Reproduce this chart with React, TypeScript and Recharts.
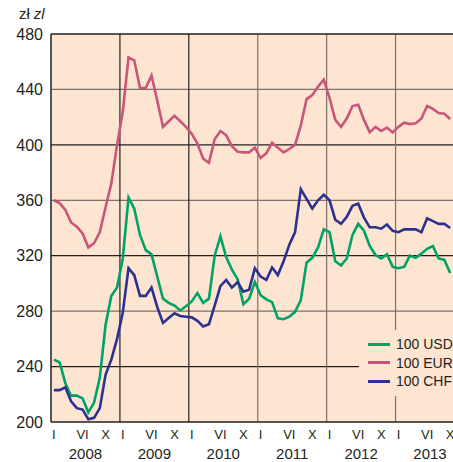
import { LineChart, Line, XAxis, YAxis, CartesianGrid, ReferenceLine, Legend } from 'recharts'

// monthly averages, Jan 2008 .. Oct 2013 (zł per 100 units)
const YEARS = [2008, 2009, 2010, 2011, 2012, 2013]
const MONTH_LABELS = ['I', 'VI', 'X']
const MONTH_LABEL_INDEX = [0, 5, 9]
const Y_TICKS = [200, 240, 280, 320, 360, 400, 440, 480]

const USD = [
  245, 243, 228, 219, 219, 217, 207, 214, 232, 270, 291, 297,
  318, 362, 354, 335, 324, 321, 305, 289, 286, 284, 280.5, 283.5,
  287, 293, 286, 289, 320, 334, 319, 310, 303, 285, 289, 301,
  291.5, 288.5, 286.5, 274.8, 274.2, 276, 279.5, 288, 315, 318.5, 326, 339,
  337, 316, 313, 318, 335, 343, 338, 327, 320.5, 318, 321, 312,
  311, 312, 320, 318.5, 321.5, 325, 327, 318, 317, 307.5,
]

const EUR = [
  360, 358, 353, 344, 341, 336, 326, 329, 337, 355, 372, 400,
  424, 463, 461, 441, 441, 450, 432, 413, 417, 421, 417, 413,
  408, 401, 390, 387, 404, 410, 407, 399, 395, 394.6, 394.6, 398,
  390.5, 394, 401.5, 398, 394.5, 397, 400, 414, 433, 436, 442, 447,
  434, 418, 413, 419, 428, 429, 418, 409, 413, 410, 412.5, 409,
  413, 416, 415, 415.5, 419, 428, 426, 423, 422.5, 418.7,
]

const CHF = [
  223, 223, 225, 215, 210, 209, 202, 203, 210, 234, 245, 260,
  279, 311, 306, 291, 291, 297, 283, 271.5, 275, 278.5, 276.5, 276,
  275.5, 273, 269, 270.5, 284, 298, 302.5, 297, 301, 294, 295.5, 311,
  305, 302.5, 311.5, 306, 316, 328, 337, 368, 361, 354, 360, 364,
  360, 346, 343, 348, 356, 357.5, 347.5, 340.5, 340.5, 339.5, 342.5, 338,
  337, 339, 339, 339, 337, 347, 345, 343, 343, 340,
]

const SERIES = [
  { key: 'usd', label: '100 USD', color: '#00a265' },
  { key: 'eur', label: '100 EUR', color: '#c9557a' },
  { key: 'chf', label: '100 CHF', color: '#2c3190' },
]

const PEACH = '#fde5d1'
const DARK = '#231f20'
const GREY = '#7d716a'
const FONT = '"Liberation Sans Narrow", "Liberation Sans", Arial, sans-serif'

const chartData = USD.map((usd, i) => ({ month: i + 0.5, usd, eur: EUR[i], chf: CHF[i] }))

const monthTicks = YEARS.flatMap((_, y) => MONTH_LABEL_INDEX.map((m) => y * 12 + m + 0.5))
const yearTicks = YEARS.map((_, y) => y * 12 + 6)
const yearLines = YEARS.slice(1).map((_, y) => (y + 1) * 12)

const monthLabel = (v: number) => MONTH_LABELS[MONTH_LABEL_INDEX.indexOf(Math.floor(v) % 12)]
const yearLabel = (v: number) => String(YEARS[Math.floor(v / 12)])

const UnitLabel = ({ viewBox }: any) => (
  <text x={(viewBox?.x ?? 0) + 19} y={(viewBox?.y ?? 34) - 15} fontSize={15} fill={DARK} fontFamily={FONT}>
    <tspan>zł</tspan>
    <tspan dx={4} fontStyle="italic">zl</tspan>
  </text>
)

const LegendBox = () => (
  <div style={{ background: PEACH, width: 94, height: 66, paddingTop: 5, boxSizing: 'border-box', fontFamily: FONT }}>
    {SERIES.map((s) => (
      <div key={s.key} style={{ display: 'flex', alignItems: 'center', height: 18.5 }}>
        <span style={{ display: 'inline-block', width: 22, height: 3, background: s.color, marginLeft: 9, marginRight: 6 }} />
        <span style={{ fontSize: 14, color: DARK }}>{s.label}</span>
      </div>
    ))}
  </div>
)

export default function App() {
  return (
    <div style={{ position: 'absolute', left: 0, top: 0, width: 453, height: 462, background: '#fff' }}>
      <LineChart
        width={453}
        height={462}
        data={chartData}
        margin={{ top: 34, right: 0, left: 0, bottom: 0 }}
        style={{ fontFamily: FONT }}
      >
        <CartesianGrid fill={PEACH} horizontal={false} vertical={false} />
        {Y_TICKS.slice(1, -1).map((v) => (
          <ReferenceLine key={v} y={v} stroke={v % 80 === 0 ? DARK : GREY} strokeWidth={1.2} />
        ))}
        {yearLines.map((v, i) => (
          <ReferenceLine key={v} x={v} stroke={i < 2 ? DARK : GREY} strokeWidth={1.2} />
        ))}
        <ReferenceLine y={480} stroke={DARK} strokeWidth={1.5} />
        <XAxis
          dataKey="month"
          type="number"
          domain={[0, 70]}
          ticks={monthTicks}
          interval={0}
          tickFormatter={monthLabel}
          tickLine={false}
          axisLine={{ stroke: DARK, strokeWidth: 1.5 }}
          tick={{ fontSize: 13, fill: DARK }}
          height={20}
          allowDataOverflow
        />
        <XAxis
          xAxisId="year"
          dataKey="month"
          type="number"
          domain={[0, 70]}
          ticks={yearTicks}
          interval={0}
          tickFormatter={yearLabel}
          tickLine={false}
          axisLine={false}
          tickMargin={0}
          tick={{ fontSize: 15, fill: DARK }}
          height={20}
          allowDataOverflow
        />
        <YAxis
          domain={[200, 480]}
          ticks={Y_TICKS}
          interval={0}
          width={51}
          tickLine={false}
          axisLine={{ stroke: DARK, strokeWidth: 1.5 }}
          tick={{ fontSize: 16, fill: DARK }}
          label={<UnitLabel />}
        />
        <Legend
          layout="horizontal"
          verticalAlign="middle"
          align="center"
          wrapperStyle={{ left: 359, top: 330, width: 94, height: 66 }}
          content={<LegendBox />}
        />
        {SERIES.map((s) => (
          <Line
            key={s.key}
            type="linear"
            dataKey={s.key}
            stroke={s.color}
            strokeWidth={2.6}
            dot={false}
            isAnimationActive={false}
          />
        ))}
      </LineChart>
    </div>
  )
}
